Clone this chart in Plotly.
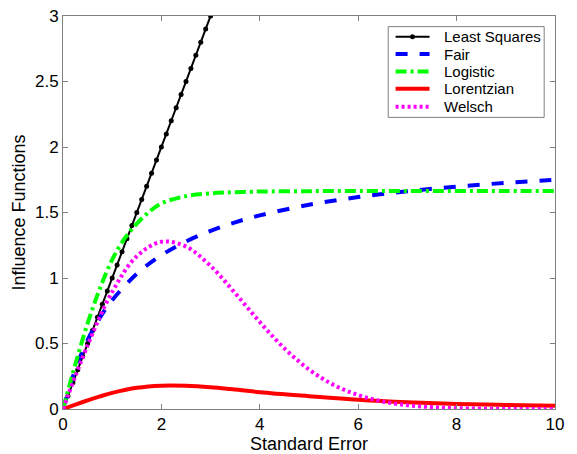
import plotly.graph_objects as go

# Least squares: y = x sampled every 0.1 up to 3
ls_x = [i / 10 for i in range(31)]
ls_y = [i / 10 for i in range(31)]

fair_x = [0, 0.25, 0.5, 0.75, 1, 1.5, 2, 2.5, 3, 3.5, 4, 5, 6, 7, 8, 9, 10]
fair_y = [0, 0.30, 0.525, 0.696, 0.831, 1.032, 1.174, 1.279, 1.360, 1.425, 1.478,
          1.559, 1.618, 1.662, 1.698, 1.726, 1.750]

logi_x = [0, 0.25, 0.5, 0.75, 1, 1.25, 1.5, 1.75, 2, 2.5, 3, 3.5, 4, 5, 6, 7, 8, 9, 10]
logi_y = [0, 0.34, 0.653, 0.92, 1.14, 1.30, 1.415, 1.505, 1.570, 1.625, 1.646,
          1.655, 1.660, 1.663, 1.664, 1.664, 1.664, 1.664, 1.664]

lor_x = [0, 0.5, 0.75, 1, 1.5, 2, 2.5, 3, 3.4, 4, 5, 6, 7, 8, 9, 10]
lor_y = [0, 0.066, 0.096, 0.123, 0.162, 0.178, 0.177, 0.166, 0.152, 0.128, 0.098,
         0.071, 0.052, 0.039, 0.031, 0.025]

wel_x = [0, 0.5, 1, 1.5, 2, 2.5, 3, 3.5, 4, 4.5, 5, 5.5, 6, 6.5, 7, 7.5, 8, 9, 10]
wel_y = [0, 0.486, 0.894, 1.166, 1.276, 1.24, 1.092, 0.884, 0.664, 0.463, 0.302,
         0.184, 0.106, 0.057, 0.029, 0.014, 0.006, 0.001, 0.0]

x_ticks = [0, 2, 4, 6, 8, 10]
y_ticks = [0, 0.5, 1, 1.5, 2, 2.5, 3]
y_tick_labels = ["0", "0.5", "1", "1.5", "2", "2.5", "3"]

names = ["Least Squares", "Fair", "Logistic", "Lorentzian", "Welsch"]
colors = ["black", "#0000ff", "#00ff00", "#ff0000", "#ff00ff"]
dashes = ["solid", "12px,12px", "11px,4px,3px,4px", "solid", "3px,3px"]
widths = [2, 4, 4, 4, 4]
xs = [ls_x, fair_x, logi_x, lor_x, wel_x]
ys = [ls_y, fair_y, logi_y, lor_y, wel_y]

fig = go.Figure()
for i, (nm, cx, cy) in enumerate(zip(names, xs, ys)):
    if i == 0:
        fig.add_trace(go.Scatter(x=cx, y=cy, name=nm, mode="lines+markers",
                                 line=dict(color=colors[i], width=widths[i]),
                                 marker=dict(color=colors[i], size=5)))
    else:
        fig.add_trace(go.Scatter(x=cx, y=cy, name=nm, mode="lines",
                                 line=dict(color=colors[i], width=widths[i],
                                           dash=dashes[i], shape="spline")))

axis_common = dict(showgrid=False, zeroline=False, showline=True, mirror="ticks",
                   linecolor="#808080", linewidth=1, ticks="inside", ticklen=5,
                   tickcolor="#808080", automargin=False,
                   tickfont=dict(family="Liberation Sans", size=17, color="black"))

# manual legend box (paper coordinates)
leg_x0, leg_x1, leg_y0, leg_y1 = 0.661, 0.978, 0.742, 0.973
sample_x0, sample_x1, text_x = 0.676, 0.745, 0.770
entry_y = [0.947, 0.903, 0.859, 0.815, 0.769]

shapes = [dict(type="rect", xref="paper", yref="paper", x0=leg_x0, x1=leg_x1,
               y0=leg_y0, y1=leg_y1, fillcolor="white",
               line=dict(color="#808080", width=1), layer="above")]
annotations = []
for i, nm in enumerate(names):
    shapes.append(dict(type="line", xref="paper", yref="paper",
                       x0=sample_x0, x1=sample_x1, y0=entry_y[i], y1=entry_y[i],
                       line=dict(color=colors[i], width=widths[i] if i else 2,
                                 dash=dashes[i]), layer="above"))
    annotations.append(dict(xref="paper", yref="paper", x=text_x, y=entry_y[i],
                            text=nm, showarrow=False, xanchor="left", yanchor="middle",
                            font=dict(family="Liberation Sans", size=15, color="black")))
mx = (sample_x0 + sample_x1) / 2
shapes.append(dict(type="circle", xref="paper", yref="paper",
                   x0=mx - 0.005, x1=mx + 0.005, y0=entry_y[0] - 0.0064, y1=entry_y[0] + 0.0064,
                   fillcolor="black", line=dict(color="black", width=0), layer="above"))

fig.update_layout(
    width=577, height=454,
    margin=dict(l=63, r=22, t=16, b=45),
    paper_bgcolor="white", plot_bgcolor="white",
    font=dict(family="Liberation Sans", color="black"),
    xaxis=dict(range=[0, 10], tickvals=x_ticks,
               title=dict(text="Standard Error", font=dict(size=18), standoff=1),
               **axis_common),
    yaxis=dict(range=[0, 3], tickvals=y_ticks, ticktext=y_tick_labels,
               title=dict(text="Influence Functions", font=dict(size=18), standoff=4),
               **axis_common),
    showlegend=False,
    shapes=shapes,
    annotations=annotations,
)

fig.write_html("out.html")
